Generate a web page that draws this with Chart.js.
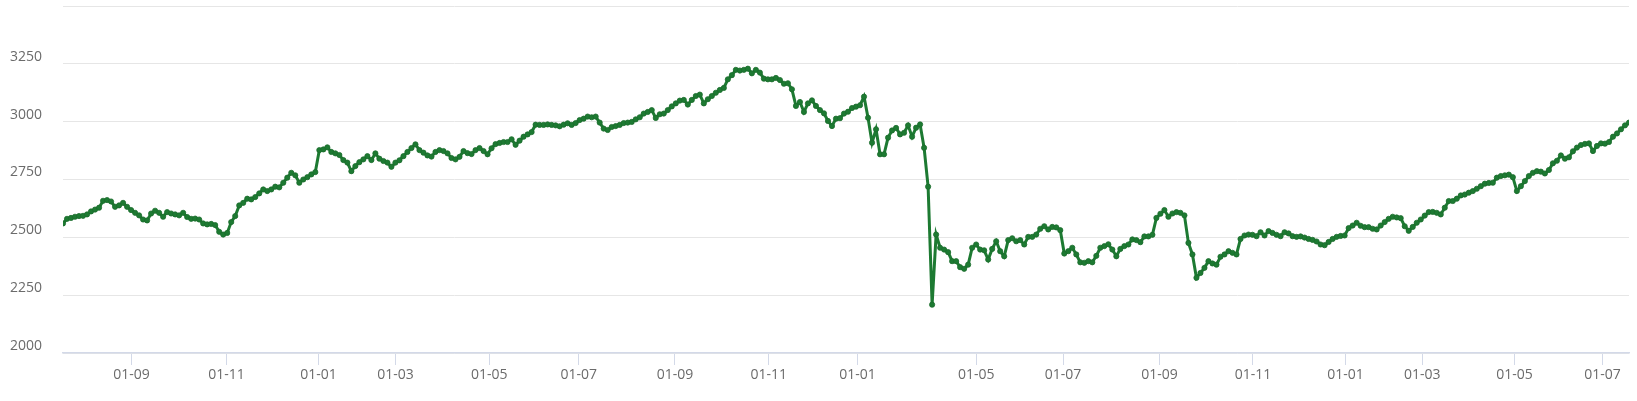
<!DOCTYPE html>
<html>
<head>
<meta charset="utf-8">
<script src="https://cdn.jsdelivr.net/npm/chart.js"></script>
<style>
  body { margin: 0; background: #fff; }
  #wrap { width: 1637px; height: 401px; }
</style>
</head>
<body>
<div id="wrap"><canvas id="indexChart" width="1637" height="401"></canvas></div>
<script>
// Closing values (about every other trading day)
const closes = [
  2560, 2580, 2584, 2589, 2592, 2593, 2599, 2612, 2620, 2628,
  2658, 2661, 2655, 2632, 2638, 2649, 2632, 2618, 2606, 2595,
  2577, 2573, 2603, 2615, 2606, 2589, 2609, 2603, 2599, 2595,
  2606, 2588, 2580, 2581, 2577, 2560, 2556, 2558, 2553, 2524,
  2512, 2519, 2566, 2592, 2638, 2649, 2667, 2664, 2674, 2690,
  2707, 2700, 2707, 2719, 2716, 2736, 2758, 2779, 2768, 2736,
  2750, 2760, 2772, 2782, 2877, 2880, 2889, 2869, 2863, 2856,
  2834, 2823, 2786, 2808, 2825, 2837, 2851, 2834, 2863, 2840,
  2830, 2823, 2805, 2823, 2833, 2851, 2869, 2886, 2902, 2877,
  2866, 2854, 2849, 2869, 2877, 2873, 2863, 2843, 2837, 2848,
  2873, 2864, 2860, 2877, 2886, 2873, 2859, 2885, 2903, 2908,
  2912, 2912, 2924, 2900, 2918, 2935, 2945, 2955, 2987, 2986,
  2986, 2988, 2986, 2984, 2980, 2987, 2993, 2986, 2994, 3007,
  3013, 3022, 3019, 3022, 2996, 2970, 2964, 2977, 2981, 2986,
  2994, 2996, 2999, 3010, 3019, 3035, 3042, 3050, 3016, 3032,
  3035, 3050, 3066, 3079, 3091, 3094, 3074, 3094, 3111, 3117,
  3079, 3097, 3111, 3125, 3137, 3146, 3183, 3201, 3224, 3221,
  3224, 3229, 3209, 3224, 3212, 3186, 3183, 3183, 3189, 3180,
  3164, 3166, 3140, 3068, 3085, 3042, 3079, 3092, 3068, 3050,
  3036, 3003, 2981, 3013, 3015, 3035, 3043, 3059, 3065, 3071,
  3108, 3017, 2909, 2967, 2859, 2859, 2931, 2962, 2973, 2945,
  2952, 2984, 2935, 2974, 2988, 2887, 2719, 2209, 2512, 2455,
  2447, 2436, 2397, 2397, 2371, 2364, 2382, 2455, 2469, 2447,
  2444, 2404, 2450, 2483, 2440, 2418, 2488, 2496, 2483, 2488,
  2469, 2502, 2502, 2512, 2537, 2548, 2534, 2545, 2543, 2531,
  2430, 2440, 2455, 2426, 2392, 2390, 2397, 2392, 2420, 2455,
  2462, 2470, 2447, 2418, 2450, 2462, 2469, 2491, 2488, 2479,
  2504, 2504, 2511, 2584, 2602, 2618, 2589, 2603, 2609, 2606,
  2595, 2476, 2426, 2325, 2346, 2368, 2397, 2387, 2382, 2416,
  2426, 2440, 2433, 2426, 2493, 2508, 2512, 2511, 2505, 2522,
  2508, 2527, 2519, 2511, 2505, 2522, 2517, 2505, 2502, 2504,
  2499, 2493, 2489, 2482, 2469, 2466, 2480, 2493, 2502, 2506,
  2508, 2540, 2551, 2563, 2550, 2544, 2544, 2537, 2534, 2551,
  2566, 2580, 2589, 2586, 2583, 2548, 2528, 2545, 2563, 2577,
  2594, 2609, 2610, 2606, 2599, 2628, 2657, 2657, 2667, 2681,
  2685, 2693, 2700, 2710, 2721, 2732, 2735, 2736, 2758, 2765,
  2768, 2771, 2760, 2700, 2721, 2743, 2765, 2779, 2786, 2784,
  2776, 2791, 2820, 2831, 2854, 2840, 2846, 2872, 2888, 2899,
  2904, 2906, 2873, 2895, 2906, 2905, 2912, 2935, 2949, 2967,
  2984, 2996
];

// where the month labels sit along the series, and what they say
const tickPos = [17.1, 40.8, 63.8, 83, 106.4, 128.8, 152.8, 176.2, 198.4, 228, 249.7, 273.8, 297.1, 320.2, 339.4, 362.4, 384.4];
const tickLabels = ['01-09', '01-11', '01-01', '01-03', '01-05', '01-07', '01-09', '01-11', '01-01',
  '01-05', '01-07', '01-09', '01-11', '01-01', '01-03', '01-05', '01-07'];

const yMin = 2000;
const yMax = 3500;
const yStep = 250;

const green = '#1d7a32';
const textColor = '#6b6b6b';
const axisBlue = '#d3d9e8';

const ctx = document.getElementById('indexChart').getContext('2d');
const indexChart = new Chart(ctx, {
  type: 'line',
  data: {
    labels: closes.map((v, i) => i),
    datasets: [{
      data: closes,
      borderColor: green,
      backgroundColor: green,
      borderWidth: 3,
      pointRadius: 2.6,
      pointBorderWidth: 0.8,
      pointBackgroundColor: green,
      pointBorderColor: '#1a6c2c',
      tension: 0
    }]
  },
  options: {
    responsive: false,
    animation: false,
    layout: { padding: { top: 6, right: 8, left: 0, bottom: 0 } },
    plugins: {
      legend: { display: false },
      tooltip: { enabled: false }
    },
    scales: {
      x: {
        type: 'linear',
        min: 0,
        max: closes.length - 1,
        afterBuildTicks: (scale) => {
          scale.ticks = tickPos.map(v => ({ value: v }));
        },
        afterFit: (scale) => {
          scale.height = 48;
          scale.paddingLeft = 0;
          scale.paddingRight = 0;
        },
        grid: {
          drawOnChartArea: false,
          drawTicks: true,
          tickLength: 12,
          color: axisBlue,
          lineWidth: 1
        },
        border: { color: axisBlue, width: 1.5 },
        ticks: {
          autoSkip: false,
          maxRotation: 0,
          padding: 2,
          color: textColor,
          font: { family: 'Open Sans', size: 14 },
          callback: (value, index) => tickLabels[index]
        }
      },
      y: {
        min: yMin,
        max: yMax,
        afterFit: (scale) => {
          scale.width = 63;
          scale.paddingTop = 0;
          scale.paddingBottom = 0;
        },
        grid: {
          color: '#e6e6e6',
          lineWidth: 1,
          drawTicks: false
        },
        border: { display: false },
        ticks: {
          stepSize: yStep,
          padding: 21,
          labelOffset: -7,
          color: textColor,
          font: { family: 'Open Sans', size: 14 },
          callback: (value) => (value === yMax ? '' : value)
        }
      }
    }
  }
});
</script>
</body>
</html>
